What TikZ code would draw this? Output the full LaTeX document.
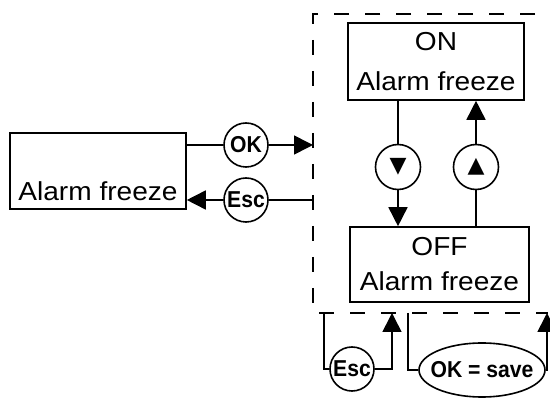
\documentclass[tikz,border=0pt]{standalone}
\usepackage{fontspec}
\setmainfont{Liberation Sans}[FakeStretch=1.08]
\newfontfamily\keyfont{Liberation Sans}[FakeStretch=0.92]
\newfontfamily\symfont{DejaVu Sans}
\usetikzlibrary{arrows.meta,shapes.geometric}

\begin{document}
\begin{tikzpicture}[x=1pt, y=-1pt,
  every node/.style={draw, line width=1.6pt, inner sep=0pt},
  screen/.style={minimum width=176pt, minimum height=76pt, align=center, font=\fontsize{26}{40}\selectfont},
  key/.style={circle, minimum size=44pt, font=\keyfont\bfseries\fontsize{23}{23}\selectfont},
  arrowkey/.style={circle, minimum size=45pt, font=\symfont\fontsize{22}{22}\selectfont},
  frame/.style={line width=1.2pt, dash pattern=on 15pt off 16pt},
  >={Triangle[length=19pt,width=19pt]},
  line width=1.6pt
]
\useasboundingbox (0,0) rectangle (550,398);

% menu entry
\node[screen, text height=68pt, text depth=8pt] (entry) at (98,171) {Alarm freeze};

% keys to enter / leave
\node[key] (okkey)  at (246,145) {OK};
\node[key] (esckey) at (246,200) {Esc};

% submenu frame
\coordinate (frametr) at (535,14);
\coordinate (frametl) at (313,14);
\coordinate (framebl) at (313,313);
\coordinate (framebr) at (548,313);
\draw[frame] (frametr) -- (frametl) -- (framebl) -- (framebr);

\coordinate (framein)  at (313,145);
\coordinate (frameout) at (313,200);

% the two settings
\node[screen, minimum height=77pt] (onbox)  at (436,61.5) {ON\\Alarm freeze};
\node[screen, minimum width=179pt, minimum height=75pt, font=\fontsize{26}{35}\selectfont] (offbox) at (439.5,264.5) {OFF\\Alarm freeze};

\node[arrowkey] (downkey) at (398,167) {▼};
\node[arrowkey] (upkey)   at (476,167) {▲};

% keys below the frame
\node[key] (esc2) at (352,369) {Esc};
\node[key, ellipse, inner xsep=-7pt, minimum width=126pt, minimum height=54pt] (savekey) at (482,370) {OK = save};

\coordinate (escout)  at (324,313);
\coordinate (escin)   at (392,313);
\coordinate (saveout) at (408,313);
\coordinate (savein)  at (547,313);

% connectors
\draw (entry.east |- okkey) -- (okkey.west);
\draw[->] (okkey.east) -- (framein);
\draw (frameout) -- (esckey.east);
\draw[->] (esckey.west) -- (entry.east |- esckey);

\draw (onbox.south -| downkey) -- (downkey.north);
\draw[->] (downkey.south) -- (offbox.north -| downkey);
\draw (offbox.north -| upkey) -- (upkey.south);
\draw[->] (upkey.north) -- (onbox.south -| upkey);

\draw (escout) |- (esc2.west);
\draw[->] (esc2.east) -| (escin);
\draw (saveout) |- (savekey.west);
\draw[->] (savekey.east) -| (savein);
\end{tikzpicture}
\end{document}
